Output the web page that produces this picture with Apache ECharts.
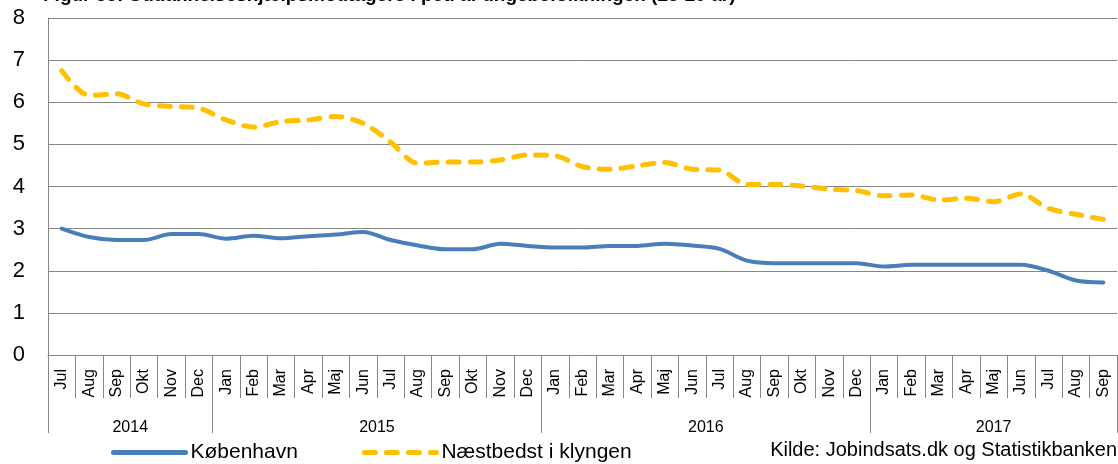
<!DOCTYPE html>
<html>
<head>
<meta charset="utf-8">
<script src="https://cdn.jsdelivr.net/npm/echarts@6/dist/echarts.min.js"></script>
<style>
html,body{margin:0;padding:0;background:#fff;}
#c{width:1118px;height:464px;}
</style>
</head>
<body>
<div id="c"></div>
<script>
// ---- data ----
var titleText = 'Figur 35: Uddannelseshjælpsmodtagere i pct. af ungebefolkningen (25-29 år)';
var sourceText = 'Kilde: Jobindsats.dk og Statistikbanken';
var monthNames = ['Jan','Feb','Mar','Apr','Maj','Jun','Jul','Aug','Sep','Okt','Nov','Dec'];
var years = ['2014','2015','2016','2017'];
var firstMonthIdx = [6, 0, 0, 0];   // Jul 2014 start
var lastMonthIdx  = [11, 11, 11, 8]; // Sep 2017 end
var seriesNames = ['København', 'Næstbedst i klyngen'];
var kobenhavn = [3.0,2.8,2.73,2.73,2.87,2.87,
  2.76,2.83,2.77,2.82,2.86,2.92,2.73,2.6,2.51,2.51,2.64,2.59,
  2.55,2.55,2.59,2.59,2.64,2.6,2.52,2.24,2.18,2.18,2.18,2.18,
  2.1,2.14,2.14,2.14,2.14,2.14,2.0,1.77,1.72];
var naestbedst = [6.75,6.16,6.2,5.96,5.9,5.86,
  5.58,5.41,5.54,5.58,5.66,5.5,5.05,4.55,4.58,4.58,4.63,4.75,
  4.73,4.47,4.41,4.49,4.57,4.41,4.39,4.05,4.05,4.01,3.94,3.9,
  3.78,3.8,3.68,3.72,3.64,3.82,3.48,3.34,3.22];
var yTicks = [0,1,2,3,4,5,6,7,8];

// ---- derived categories ----
var categories = [], yearStart = [], yearCount = [];
years.forEach(function(y, yi){
  yearStart.push(categories.length);
  for (var m = firstMonthIdx[yi]; m <= lastMonthIdx[yi]; m++) categories.push(monthNames[m]);
  yearCount.push(categories.length - yearStart[yi]);
});
var yearLabelAt = {}; // index -> {year, shift}
years.forEach(function(y, yi){
  var c = yearStart[yi] + yearCount[yi] / 2 - 0.5;
  var idx = Math.ceil(c);
  yearLabelAt[idx] = {year: y, shift: idx !== c};
});
var boundaries = {};
yearStart.forEach(function(s){ boundaries[s] = true; });

var FONT = '"Liberation Sans", Arial, sans-serif';
var gridColor = '#868686';
var blue = '#4a7ebb', yellow = '#ffc000';
var blueLine = {width: 4, color: blue, cap:'round', join:'round'};
var yellowLine = {width: 5, color: yellow, type:[11, 11], cap:'round', join:'round'};
var chart = echarts.init(document.getElementById('c'), null, {renderer:'canvas'});
var gridLeft = 48, gridRight = 1;
var halfBand = (1118 - gridLeft - gridRight) / categories.length / 2;

chart.setOption({
  animation: false,
  textStyle: {fontFamily: FONT},
  grid: {left: gridLeft, right: gridRight, top: 18, bottom: 109, containLabel: false},
  graphic: [
    {type:'text', left: 43, top: -14, style:{text: titleText, font: 'bold 19px ' + FONT, fill:'#000'}},
    {type:'text', right: 1, top: 440, style:{text: sourceText, font: '20px ' + FONT, fill:'#000'}}
  ],
  legend: {
    left: 106, top: 437, itemWidth: 72, itemHeight: 14, itemGap: 64,
    itemStyle: {opacity: 0},
    textStyle: {fontSize: 21, color:'#000', fontFamily: FONT},
    data: [
      {name: seriesNames[0], lineStyle: {width: 5, color: blue, cap:'round'}},
      {name: seriesNames[1], lineStyle: {width: 5, color: yellow, type:[11, 11], cap:'round'}}
    ]
  },
  xAxis: [{
    type:'category', data: categories, boundaryGap: true,
    axisLine: {lineStyle:{color: gridColor, width: 1}},
    axisTick: {show:true, interval: 0, length: 43, lineStyle:{color: gridColor}},
    axisLabel: {interval: 0, rotate: 90, fontSize: 16, color:'#000', margin: 14, fontFamily: FONT},
    splitLine: {show:false}
  },{
    type:'category', data: categories, boundaryGap: true, position:'bottom',
    axisLine: {show:false},
    axisTick: {show:true, length: 78, lineStyle:{color: gridColor},
      interval: function(i){ return !!boundaries[i] || i === categories.length; }},
    axisLabel: {interval: 0, margin: 65, color:'#000', fontFamily: FONT,
      formatter: function(v, i){
        var e = yearLabelAt[i];
        if (!e) return '';
        return e.shift ? '{s|' + e.year + '}' : '{n|' + e.year + '}';
      },
      rich: {
        s: {fontSize: 16, color:'#000', fontFamily: FONT, padding:[0, halfBand*2, 0, 0]},
        n: {fontSize: 16, color:'#000', fontFamily: FONT}
      }
    },
    splitLine: {show:false}
  }],
  yAxis: {
    type:'value', min: yTicks[0], max: yTicks[yTicks.length-1], interval: 1,
    axisLine: {show:true, lineStyle:{color: gridColor}},
    axisTick: {show:false},
    axisLabel: {fontSize: 22, color:'#000', margin: 23, fontFamily: FONT},
    splitLine: {lineStyle:{color: gridColor, width: 1}}
  },
  series: [{
    name: seriesNames[0], type:'line', data: kobenhavn, smooth: 0.3,
    symbol:'none', color: blue, lineStyle: blueLine
  },{
    name: seriesNames[1], type:'line', data: naestbedst, smooth: 0.3,
    symbol:'none', color: yellow, lineStyle: yellowLine
  }]
});
</script>
</body>
</html>
